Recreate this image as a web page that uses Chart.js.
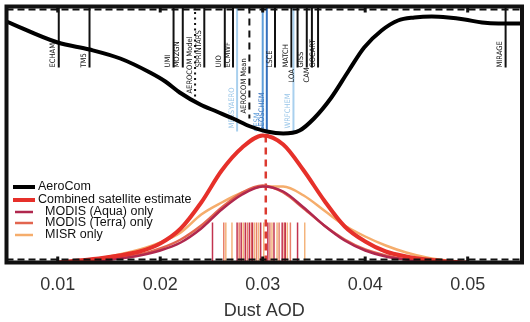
<!DOCTYPE html>
<html>
<head>
<meta charset="utf-8">
<script src="https://cdn.jsdelivr.net/npm/chart.js@4.4.1/dist/chart.umd.min.js"></script>
<style>
  html, body { margin: 0; padding: 0; background: #fff; }
  #wrap { width: 530px; height: 322px; }
</style>
</head>
<body>
<div id="wrap"><canvas id="chart" width="530" height="322"></canvas></div>
<script>
// x positions shared by the satellite density curves
const aodGrid = [0.010, 0.012, 0.014, 0.016, 0.018, 0.020, 0.022, 0.024, 0.026, 0.028, 0.030,
                 0.032, 0.034, 0.036, 0.038, 0.040, 0.042, 0.044, 0.046, 0.048, 0.050];
const combined   = [0, 2, 4, 7, 11, 19, 34, 60, 92, 115, 127, 118, 92, 62, 36, 21, 11, 6, 3, 1, 0];
const modisAqua  = [0, 1, 2, 4, 7, 12, 20, 34, 53, 68, 76, 71, 55, 37, 22, 12, 6, 3, 1, 0.5, 0];
const modisTerra = [0, 1, 3, 5, 8, 14, 23, 37, 55, 70, 77, 70, 54, 37, 23, 13, 7, 3, 1.5, 0.5, 0];
const misr       = [0, 2, 4, 8, 13, 20, 30, 48, 60, 70, 76, 76, 67, 52, 37, 26, 17, 10, 5, 2, 0];

// AeroCom model curve (hangs from the top of the frame)
const aerocomAod = [0.0050, 0.0100, 0.0131, 0.0161, 0.0190, 0.0205, 0.0219, 0.0239, 0.0255, 0.0271,
                    0.0288, 0.0304, 0.0320, 0.0336, 0.0350, 0.0367, 0.0384, 0.0399, 0.0416, 0.0432,
                    0.0448, 0.0465, 0.0481, 0.0497, 0.0514, 0.0530, 0.0553];
const aerocomVal = [241, 220, 213, 204, 190, 181, 170, 158, 151, 144,
                    136, 131, 129, 132, 144, 165, 192, 215, 232, 242,
                    245, 246, 245, 243, 240, 239, 239];

// satellite mean and individual estimates (rug)
const satMean = 0.0303;
const satPeak = 127;
const rugAqua  = [0.0251, 0.0275, 0.0279, 0.0283, 0.0287, 0.0290, 0.0298, 0.0305, 0.0311, 0.0319, 0.0322, 0.0334];
const rugTerra = [0.0262, 0.0277, 0.0285, 0.0289, 0.0294, 0.0307, 0.0316, 0.0321, 0.0327];
const rugMisr  = [0.0264, 0.0270, 0.0281, 0.0292, 0.0296, 0.0301, 0.0309, 0.0314, 0.0324, 0.0341];
const rugTop = 40;

// AeroCom models
const modelNames = ['ECHAM', 'TM5', 'UMI', 'MOZGN', 'AEROCOM Model', 'SPRINTARS', 'UIO', 'ECMWF',
                    'MESSYAERO', 'AEROCOM Mean', 'CESM', 'GEOSCHEM', 'LSCE', 'MATCH', 'WRFCHEM',
                    'LOA', 'GISS', 'CAM', 'GOCART', 'MIRAGE'];
const modelAod = [0.0101, 0.0131, 0.0213, 0.0222, 0.0234, 0.0243, 0.0263, 0.0271,
                  0.0275, 0.0287, 0.0300, 0.0304, 0.0312, 0.0328, 0.0330,
                  0.0334, 0.0343, 0.0348, 0.0354, 0.0537];
const modelKind = ['k', 'k', 'k', 'k', 'dot', 'k', 'k', 'k',
                   'lb', 'dash', 'mb', 'db', 'k', 'k', 'lb',
                   'k2', 'k', 'k2', 'k', 'k'];

const xTicks = [0.01, 0.02, 0.03, 0.04, 0.05];

const looks = {
  k:    { line: '#111', text: '#111', dash: [], end: 195, label: 195 },
  k2:   { line: '#111', text: '#111', dash: [], end: 195, label: 180 },
  dot:  { line: '#111', text: '#111', dash: [2, 3.5], end: 165, label: 169 },
  dash: { line: '#111', text: '#111', dash: [7, 5], end: 144, label: 149 },
  lb:   { line: '#a9d0ee', text: '#9ac6e8', dash: [], end: 131, label: 134 },
  mb:   { line: '#5f9fdb', text: '#5f9fdb', dash: [], end: 130, label: 131 },
  db:   { line: '#3570bd', text: '#3a74bf', dash: [], end: 130, label: 131 }
};

const pts = (xs, ys) => xs.map((x, i) => ({ x: x, y: ys[i] }));
const rug = vals => {
  const out = [];
  vals.forEach(v => out.push({ x: v, y: 0 }, { x: v, y: rugTop }, { x: v, y: null }));
  return out;
};

const curve = (label, data, color, width) => ({
  label: label, data: data, borderColor: color, borderWidth: width,
  pointRadius: 0, fill: false, cubicInterpolationMode: 'monotone'
});
const straight = (data, color, width, dash) => ({
  data: data, borderColor: color, borderWidth: width, borderDash: dash || [],
  pointRadius: 0, fill: false, tension: 0
});

// model lines + names hanging from the top
const modelPlugin = {
  id: 'models',
  beforeDatasetsDraw(chart) {
    const { ctx, scales: { x, y }, chartArea } = chart;
    ctx.save();
    modelNames.forEach((name, i) => {
      const lk = looks[modelKind[i]];
      const px = x.getPixelForValue(modelAod[i]);
      ctx.strokeStyle = lk.line;
      ctx.lineWidth = 2;
      ctx.setLineDash(lk.dash);
      ctx.beginPath();
      ctx.moveTo(px, chartArea.top);
      ctx.lineTo(px, y.getPixelForValue(lk.end));
      ctx.stroke();
      ctx.setLineDash([]);
      ctx.save();
      ctx.translate(px - 1.5, y.getPixelForValue(lk.label));
      ctx.rotate(-Math.PI / 2);
      ctx.fillStyle = lk.text;
      ctx.font = '7.5px "Liberation Sans Narrow", "DejaVu Sans Condensed", sans-serif';
      ctx.textAlign = 'left';
      ctx.textBaseline = 'bottom';
      ctx.fillText(name, 0, 0);
      ctx.restore();
    });
    ctx.restore();
  }
};

// frame, ticks and legend
const framePlugin = {
  id: 'frame',
  afterDraw(chart) {
    const { ctx, scales: { x }, chartArea: a } = chart;
    ctx.save();
    ctx.strokeStyle = '#111';
    ctx.lineWidth = 2;
    ctx.setLineDash([7, 4]);
    ctx.beginPath();
    ctx.moveTo(a.left, a.top + 3); ctx.lineTo(a.right, a.top + 3);
    ctx.moveTo(a.left, a.bottom - 3); ctx.lineTo(a.right, a.bottom - 3);
    ctx.stroke();
    ctx.setLineDash([]);
    ctx.lineWidth = 3;
    xTicks.forEach(v => {
      const px = x.getPixelForValue(v);
      ctx.beginPath();
      ctx.moveTo(px, a.bottom); ctx.lineTo(px, a.bottom - 6);
      ctx.moveTo(px, a.top); ctx.lineTo(px, a.top + 6);
      ctx.stroke();
    });
    ctx.lineWidth = 4;
    ctx.strokeRect(a.left, a.top, a.right - a.left, a.bottom - a.top);

    // legend
    const rows = [
      { ds: 0, x0: 13, x1: 35, tx: 38, y: 187 },
      { ds: 1, x0: 13, x1: 35, tx: 38, y: 200 },
      { ds: 2, x0: 15, x1: 33, tx: 45, y: 212 },
      { ds: 3, x0: 15, x1: 33, tx: 45, y: 223 },
      { ds: 4, x0: 15, x1: 33, tx: 45, y: 235 }
    ];
    ctx.font = '12.5px "Liberation Sans", Arial, sans-serif';
    ctx.textBaseline = 'middle';
    ctx.textAlign = 'left';
    rows.forEach(r => {
      const d = chart.data.datasets[r.ds];
      ctx.strokeStyle = d.borderColor;
      ctx.lineWidth = d.borderWidth;
      ctx.beginPath();
      ctx.moveTo(r.x0, r.y); ctx.lineTo(r.x1, r.y);
      ctx.stroke();
      ctx.fillStyle = '#111';
      ctx.fillText(d.label, r.tx, r.y);
    });
    ctx.restore();
  }
};

new Chart(document.getElementById('chart'), {
  type: 'line',
  data: {
    datasets: [
      curve('AeroCom', pts(aerocomAod, aerocomVal), '#000', 4),
      curve('Combined satellite estimate', pts(aodGrid, combined), '#e6302a', 4),
      curve('MODIS (Aqua) only', pts(aodGrid, modisAqua), '#b0284e', 2.5),
      curve('MODIS (Terra) only', pts(aodGrid, modisTerra), '#e2654f', 2.5),
      curve('MISR only', pts(aodGrid, misr), '#f5ad6c', 2.5),
      straight([{ x: satMean, y: 0 }, { x: satMean, y: satPeak }], '#dc3a30', 2.5, [7, 5]),
      straight(rug(rugAqua), '#c2334f', 1.5),
      straight(rug(rugTerra), '#e8806a', 1.5),
      straight(rug(rugMisr), '#f4b47c', 1.5)
    ]
  },
  options: {
    responsive: false,
    animation: false,
    devicePixelRatio: 1,
    layout: { padding: { left: 6.5, right: 8, top: 6.5, bottom: 0 } },
    plugins: { legend: { display: false }, tooltip: { enabled: false } },
    scales: {
      x: {
        type: 'linear',
        min: 0.005,
        max: 0.0553,
        afterBuildTicks: s => { s.ticks = xTicks.map(v => ({ value: v })); },
        afterFit: s => { s.height = 59.5; },
        ticks: {
          callback: v => v.toFixed(2),
          font: { family: '"Liberation Sans", Arial, sans-serif', size: 18 },
          color: '#333',
          padding: 12,
          maxRotation: 0,
          autoSkip: false
        },
        grid: { display: false, drawTicks: false },
        border: { display: false },
        title: {
          display: true,
          text: 'Dust AOD',
          font: { family: '"Liberation Sans", Arial, sans-serif', size: 18 },
          color: '#333',
          padding: { top: 0, bottom: 0 }
        }
      },
      y: { min: 0, max: 256, display: false }
    }
  },
  plugins: [modelPlugin, framePlugin]
});
</script>
</body>
</html>
